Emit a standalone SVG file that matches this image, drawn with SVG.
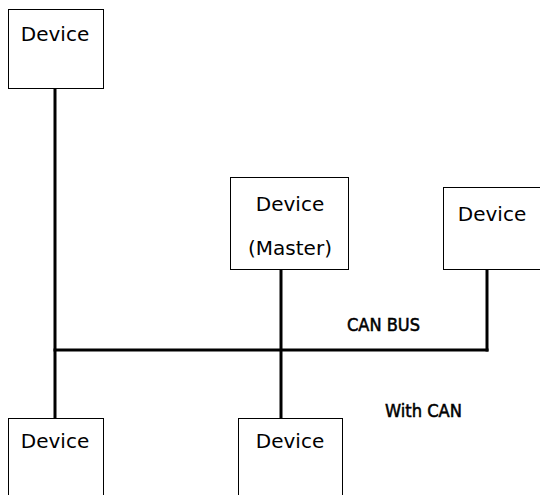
<svg xmlns="http://www.w3.org/2000/svg" width="540" height="495" viewBox="0 0 540 495">
  <style>
    .box { fill: #ffffff; stroke: #000000; stroke-width: 1; }
    .bus { fill: none; stroke: #000000; stroke-width: 3; stroke-linecap: square; }
    .label { font-family: "DejaVu Sans", "Noto Sans", sans-serif; font-size: 20px; fill: #000000; }
    .note { font-family: "DejaVu Sans Condensed", "DejaVu Sans", sans-serif; font-size: 18px; fill: #000000; stroke: #000000; stroke-width: 0.5; }
  </style>
  <rect width="540" height="495" fill="#ffffff"/>

  <!-- bus wiring -->
  <g id="connectors">
    <line class="bus" x1="55" y1="89" x2="55" y2="418"/>
    <line class="bus" x1="55" y1="350" x2="487" y2="350"/>
    <line class="bus" x1="487" y1="270" x2="487" y2="350"/>
    <line class="bus" x1="281" y1="270" x2="281" y2="418"/>
  </g>

  <g id="device-top-left">
    <rect class="box" x="8.5" y="9.5" width="95" height="79"/>
    <text class="label" x="55" y="41" text-anchor="middle">Device</text>
  </g>

  <g id="device-master">
    <rect class="box" x="230.5" y="177.5" width="118" height="92"/>
    <text class="label" x="290" y="211" text-anchor="middle">Device</text>
    <text class="label" x="290" y="255" text-anchor="middle">(Master)</text>
  </g>

  <g id="device-right">
    <rect class="box" x="443.5" y="187.5" width="100" height="82"/>
    <text class="label" x="492" y="221" text-anchor="middle">Device</text>
  </g>

  <g id="device-bottom-left">
    <rect class="box" x="8.5" y="418.5" width="95" height="90"/>
    <text class="label" x="55" y="448" text-anchor="middle">Device</text>
  </g>

  <g id="device-bottom-middle">
    <rect class="box" x="238.5" y="418.5" width="104" height="90"/>
    <text class="label" x="290" y="448" text-anchor="middle">Device</text>
  </g>

  <text class="note" x="347" y="331" textLength="73" lengthAdjust="spacingAndGlyphs">CAN BUS</text>
  <text class="note" x="385" y="417" textLength="77" lengthAdjust="spacingAndGlyphs">With CAN</text>
</svg>
